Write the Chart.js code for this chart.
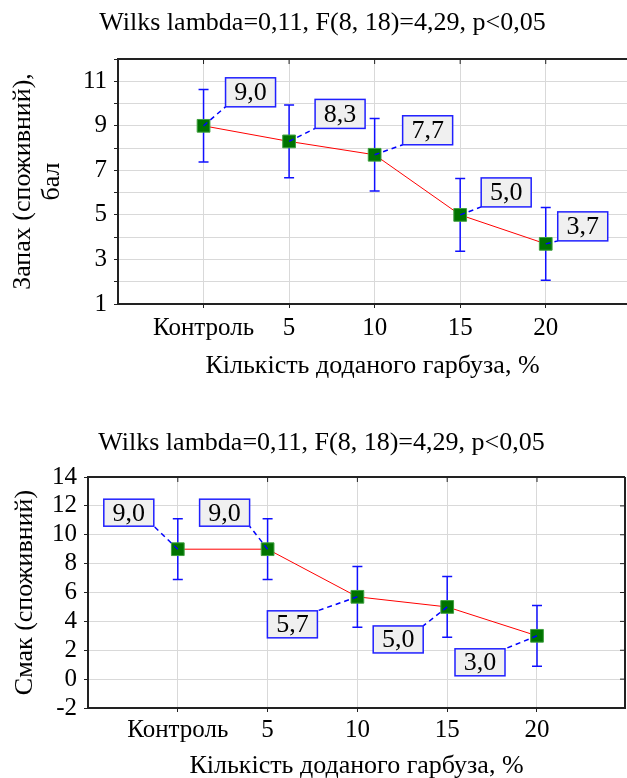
<!DOCTYPE html>
<html>
<head>
<meta charset="utf-8">
<script src="https://cdn.jsdelivr.net/npm/chart.js@4.4.1/dist/chart.umd.min.js"></script>
<style>
html, body { margin: 0; padding: 0; background: #fff; overflow: hidden; }
#wrap { position: relative; width: 627px; height: 778px; }
.panel { position: absolute; left: 0; }
</style>
</head>
<body>
<div id="wrap">
  <div class="panel" style="top:0"><canvas id="smell" width="627" height="400"></canvas></div>
  <div class="panel" style="top:400px"><canvas id="taste" width="627" height="390"></canvas></div>
</div>
<script>
// data
const categories = ['Контроль', '5', '10', '15', '20'];
const smellMeans = [9.0, 8.3, 7.7, 5.0, 3.7];
const smellErr = [1.63, 1.63, 1.63, 1.63, 1.63];
const smellLabels = ['9,0', '8,3', '7,7', '5,0', '3,7'];
const tasteMeans = [9.0, 9.0, 5.7, 5.0, 3.0];
const tasteErr = [2.1, 2.1, 2.1, 2.1, 2.1];
const tasteLabels = ['9,0', '9,0', '5,7', '5,0', '3,0'];
const statText = 'Wilks lambda=0,11, F(8, 18)=4,29, p<0,05';
const xTitle = 'Кількість доданого гарбуза, %';

const serif = "'Liberation Serif', 'Times New Roman', serif";
Chart.defaults.font.family = serif;
Chart.defaults.color = '#000';

// whiskers under the markers
const errorBars = {
    id: 'errorBars',
    beforeDatasetsDraw(chart, args, opts) {
        const ctx = chart.ctx, xs = chart.scales.x, ys = chart.scales.y;
        const pts = chart.data.datasets[0].data;
        ctx.save();
        ctx.strokeStyle = '#1010ff';
        ctx.lineWidth = 1.5;
        opts.errors.forEach((e, i) => {
            const px = xs.getPixelForValue(pts[i].x);
            const hi = ys.getPixelForValue(pts[i].y + e);
            const lo = ys.getPixelForValue(pts[i].y - e);
            ctx.beginPath();
            ctx.moveTo(px, hi); ctx.lineTo(px, lo);
            ctx.moveTo(px - 5, hi); ctx.lineTo(px + 5, hi);
            ctx.moveTo(px - 5, lo); ctx.lineTo(px + 5, lo);
            ctx.stroke();
        });
        ctx.restore();
    }
};

// top border (and right border) with inner ticks, like the Statistica frame
const frame = {
    id: 'frame',
    afterDatasetsDraw(chart, args, opts) {
        const ctx = chart.ctx, a = chart.chartArea, xs = chart.scales.x, ys = chart.scales.y;
        ctx.save();
        ctx.strokeStyle = '#222';
        ctx.lineWidth = 2;
        ctx.beginPath();
        ctx.moveTo(a.left, a.top); ctx.lineTo(a.right, a.top);
        if (opts.right) { ctx.moveTo(a.right, a.top); ctx.lineTo(a.right, a.bottom); }
        ctx.stroke();
        ctx.lineWidth = 1;
        ctx.beginPath();
        categories.forEach((c, i) => {
            const px = xs.getPixelForValue(i + 1);
            ctx.moveTo(px, a.top); ctx.lineTo(px, a.top + 5);
        });
        if (opts.right) {
            ys.ticks.forEach(t => {
                const py = ys.getPixelForValue(t.value);
                ctx.moveTo(a.right, py); ctx.lineTo(a.right - 5, py);
            });
        }
        ctx.stroke();
        ctx.restore();
    }
};

// boxed value labels joined to the points by dashed leaders
const valueBoxes = {
    id: 'valueBoxes',
    afterDatasetsDraw(chart, args, opts) {
        const ctx = chart.ctx;
        const meta = chart.getDatasetMeta(0);
        ctx.save();
        ctx.font = opts.size + 'px ' + serif;
        meta.data.forEach((pt, i) => {
            const off = opts.offsets[i];
            const bx = pt.x + off[0], by = pt.y + off[1];
            const w = opts.w, h = opts.h;
            const cx = off[0] > 0 ? bx : bx + w;
            const cy = off[1] < 0 ? by + h : by;
            ctx.setLineDash([5, 4]);
            ctx.strokeStyle = '#0000ff';
            ctx.lineWidth = 1.5;
            ctx.beginPath();
            ctx.moveTo(pt.x, pt.y); ctx.lineTo(cx, cy);
            ctx.stroke();
            ctx.setLineDash([]);
            ctx.fillStyle = '#f0f0f0';
            ctx.fillRect(bx, by, w, h);
            ctx.strokeStyle = '#2020ff';
            ctx.strokeRect(bx, by, w, h);
            ctx.fillStyle = '#000';
            ctx.textAlign = 'center';
            ctx.textBaseline = 'middle';
            ctx.fillText(opts.labels[i], bx + w / 2, by + h / 2 + 1);
        });
        ctx.restore();
    }
};

function makeChart(id, means, errs, cfg) {
    const points = means.map((v, i) => ({ x: i + 1, y: v }));
    return new Chart(document.getElementById(id), {
        type: 'line',
        data: {
            datasets: [{
                data: points,
                borderColor: '#ff0000',
                borderWidth: 1,
                pointStyle: 'rect',
                pointRadius: 9,
                pointHoverRadius: 9,
                pointBackgroundColor: '#007300',
                pointBorderColor: '#3fa03f',
                pointBorderWidth: 1
            }]
        },
        options: {
            responsive: false,
            animation: false,
            events: [],
            layout: { autoPadding: false, padding: { left: 18, right: cfg.padRight, top: 0, bottom: 0 } },
            plugins: {
                legend: { display: false },
                tooltip: { enabled: false },
                title: {
                    display: true,
                    text: statText,
                    font: { size: 26, weight: 'normal', lineHeight: 1.2 },
                    padding: cfg.titlePad
                },
                errorBars: { errors: errs },
                frame: { right: cfg.rightFrame },
                valueBoxes: { labels: cfg.labels, offsets: cfg.offsets, w: 50, h: cfg.boxH, size: 26 }
            },
            scales: {
                x: {
                    type: 'linear',
                    min: 0,
                    max: cfg.xMax,
                    afterFit: s => { s.height = cfg.xHeight; s.paddingLeft = 0; s.paddingRight = 0; },
                    ticks: {
                        stepSize: 1,
                        includeBounds: false,
                        autoSkip: false,
                        maxRotation: 0,
                        padding: cfg.xTickPad,
                        font: { size: 25 },
                        callback: v => (v >= 1 && v <= 5 && Number.isInteger(v)) ? categories[v - 1] : ''
                    },
                    grid: {
                        color: c => (c.tick && c.tick.value >= 1 && c.tick.value <= 5) ? '#d9d9d9' : 'rgba(0,0,0,0)',
                        tickColor: c => (c.tick && c.tick.value >= 1 && c.tick.value <= 5) ? '#222' : 'rgba(0,0,0,0)',
                        tickLength: 4,
                        lineWidth: 1
                    },
                    border: { display: true, color: '#222', width: 2 },
                    title: {
                        display: true,
                        text: xTitle,
                        font: { size: 26, lineHeight: 1.2 },
                        padding: { top: 0, bottom: cfg.xTitlePad }
                    }
                },
                y: {
                    min: cfg.yMin,
                    max: cfg.yMax,
                    afterFit: s => { s.width = cfg.yWidth - 18; },
                    ticks: {
                        stepSize: cfg.yStep,
                        autoSkip: false,
                        padding: 7,
                        font: { size: 25 },
                        callback: cfg.yLabel
                    },
                    grid: { color: '#d9d9d9', tickColor: '#222', tickLength: 4, lineWidth: 1 },
                    border: { display: true, color: '#222', width: 2 },
                    title: {
                        display: true,
                        text: cfg.yTitle,
                        font: { size: 26, lineHeight: 1.12 },
                        padding: { top: cfg.yTitlePad - 18, bottom: 0 }
                    }
                }
            }
        },
        plugins: [errorBars, frame, valueBoxes]
    });
}

makeChart('smell', smellMeans, smellErr, {
    labels: smellLabels,
    offsets: [[22, -48], [26, -42], [28, -39], [21, -37], [12, -32]],
    boxH: 29,
    padRight: 0,
    rightFrame: false,
    titlePad: { top: 7.4, bottom: 20.4 },
    xMax: 5.95,
    xHeight: 96,
    xTickPad: 5,
    xTitlePad: 18.4,
    yMin: 1, yMax: 12, yStep: 1,
    yLabel: v => (v % 2 === 1 && v <= 11) ? v : '',
    yWidth: 118,
    yTitle: ['Запах (споживний),', 'бал'],
    yTitlePad: 8.4
});

makeChart('taste', tasteMeans, tasteErr, {
    labels: tasteLabels,
    offsets: [[-74, -50], [-68, -50], [-90, 14], [-74, 19], [-82, 13]],
    boxH: 27,
    padRight: 2,
    rightFrame: true,
    titlePad: { top: 27.4, bottom: 18.4 },
    xMax: 5.98,
    xHeight: 82,
    xTickPad: 3,
    xTitlePad: 8.4,
    yMin: -2, yMax: 14, yStep: 2,
    yLabel: v => v,
    yWidth: 88,
    yTitle: 'Смак (споживний)',
    yTitlePad: 11
});
</script>
</body>
</html>
